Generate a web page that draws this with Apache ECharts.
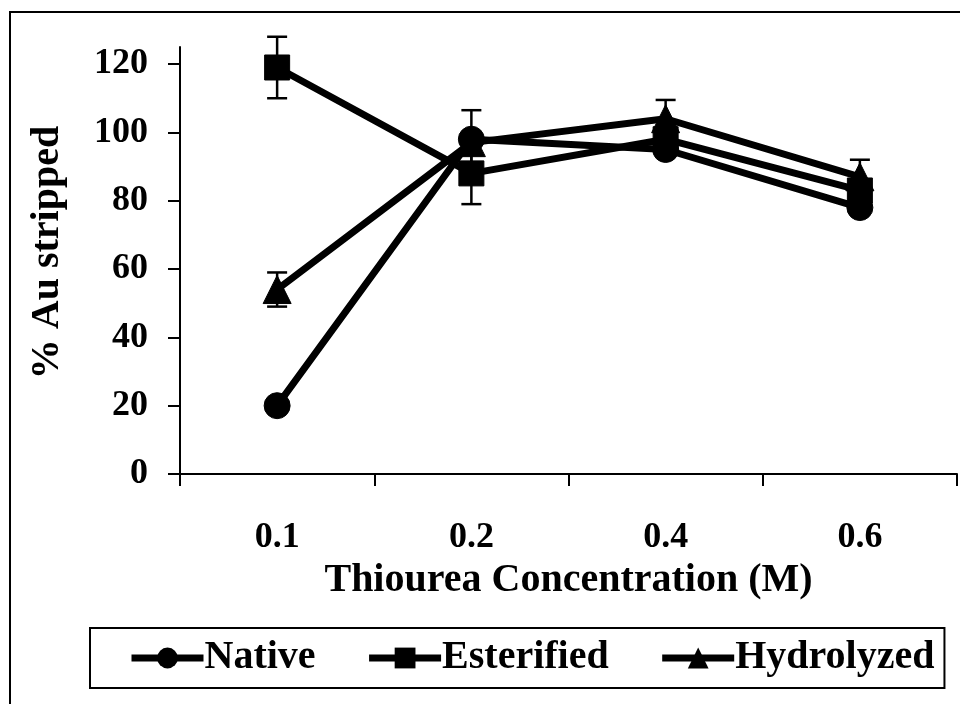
<!DOCTYPE html>
<html>
<head>
<meta charset="utf-8">
<script src="https://cdn.jsdelivr.net/npm/echarts@6/dist/echarts.min.js"></script>
<style>
  html, body { margin: 0; padding: 0; background: #fff; }
  #chart { width: 960px; height: 704px; }
</style>
</head>
<body>
<div id="chart"></div>
<script>
// data
const concentrations = ["0.1", "0.2", "0.4", "0.6"];
const yTicks = [0, 20, 40, 60, 80, 100, 120];

const nativeVals = [20, 98, 95, 78];
const esterifiedVals = [119, 88, 98, 83];
const hydrolyzedVals = [54, 97, 104, 87];

const nativeErr = [0, 8.5, 0, 0];
const esterifiedErr = [9, 9, 0, 0];
const hydrolyzedErr = [5, 0, 5.5, 5];

const seriesNames = ["Native", "Esterified", "Hydrolyzed"];

const FONT = "Liberation Serif";

function errorSeries(name, vals, errs) {
  const data = [];
  vals.forEach((v, i) => {
    if (errs[i] > 0) data.push([i, v - errs[i], v + errs[i]]);
  });
  return {
    type: "custom",
    name: name + " err",
    z: 1,
    silent: true,
    renderItem: function (params, api) {
      const x = api.value(0);
      const lo = api.coord([x, api.value(1)]);
      const hi = api.coord([x, api.value(2)]);
      const half = 10;
      const style = { stroke: "#000", lineWidth: 2.5 };
      return {
        type: "group",
        children: [
          { type: "line", shape: { x1: lo[0], y1: lo[1], x2: hi[0], y2: hi[1] }, style: style },
          { type: "line", shape: { x1: lo[0] - half, y1: lo[1], x2: lo[0] + half, y2: lo[1] }, style: style },
          { type: "line", shape: { x1: hi[0] - half, y1: hi[1], x2: hi[0] + half, y2: hi[1] }, style: style }
        ]
      };
    },
    data: data
  };
}

function lineSeries(name, vals, symbol, size) {
  return {
    type: "line",
    name: name,
    z: 3,
    data: vals,
    symbol: symbol,
    symbolSize: size,
    lineStyle: { color: "#000", width: 7 },
    itemStyle: { color: "#000", borderColor: "#000" }
  };
}

const chart = echarts.init(document.getElementById("chart"));

chart.setOption({
  animation: false,
  backgroundColor: "#fff",
  textStyle: { fontFamily: FONT, fontWeight: "bold", color: "#000" },
  grid: { left: 180, right: 3, top: 47, bottom: 230 },
  xAxis: {
    type: "category",
    data: concentrations,
    boundaryGap: true,
    name: "Thiourea Concentration (M)",
    nameLocation: "middle",
    nameGap: 86,
    nameTextStyle: { fontFamily: FONT, fontWeight: "bold", fontSize: 40, color: "#000" },
    axisLine: { lineStyle: { color: "#000", width: 2 } },
    axisTick: { show: true, length: 12, inside: false, lineStyle: { color: "#000", width: 2 } },
    axisLabel: { margin: 46, fontFamily: FONT, fontWeight: "bold", fontSize: 36, color: "#000" },
    splitLine: { show: false }
  },
  yAxis: {
    type: "value",
    min: 0,
    max: 125,
    interval: 20,
    name: "% Au stripped",
    nameLocation: "middle",
    nameGap: 112,
    nameTextStyle: { fontFamily: FONT, fontWeight: "bold", fontSize: 40, color: "#000", padding: [0, 0, 0, 16] },
    axisLine: { show: true, lineStyle: { color: "#000", width: 2 } },
    axisTick: { show: true, length: 12, lineStyle: { color: "#000", width: 2 }, customValues: yTicks },
    axisLabel: { margin: 32, fontFamily: FONT, fontWeight: "bold", fontSize: 36, color: "#000", customValues: yTicks },
    splitLine: { show: false }
  },
  legend: {
    data: seriesNames,
    left: 90,
    top: 628,
    orient: "horizontal",
    padding: [10, 10, 10, 38],
    itemGap: 50,
    itemWidth: 72,
    itemHeight: 26,
    borderColor: "#000",
    borderWidth: 2,
    lineStyle: { width: 7, color: "#000" },
    textStyle: { fontFamily: FONT, fontWeight: "bold", fontSize: 40, color: "#000", padding: [0, 0, 0, -4] }
  },
  graphic: [
    {
      type: "polyline",
      silent: true,
      shape: { points: [[10, 704], [10, 12], [960, 12]] },
      style: { stroke: "#000", lineWidth: 2, fill: null }
    }
  ],
  series: [
    errorSeries("Native", nativeVals, nativeErr),
    errorSeries("Esterified", esterifiedVals, esterifiedErr),
    errorSeries("Hydrolyzed", hydrolyzedVals, hydrolyzedErr),
    lineSeries("Native", nativeVals, "circle", 26),
    lineSeries("Esterified", esterifiedVals, "rect", 25),
    lineSeries("Hydrolyzed", hydrolyzedVals, "triangle", 28)
  ]
});
</script>
</body>
</html>
